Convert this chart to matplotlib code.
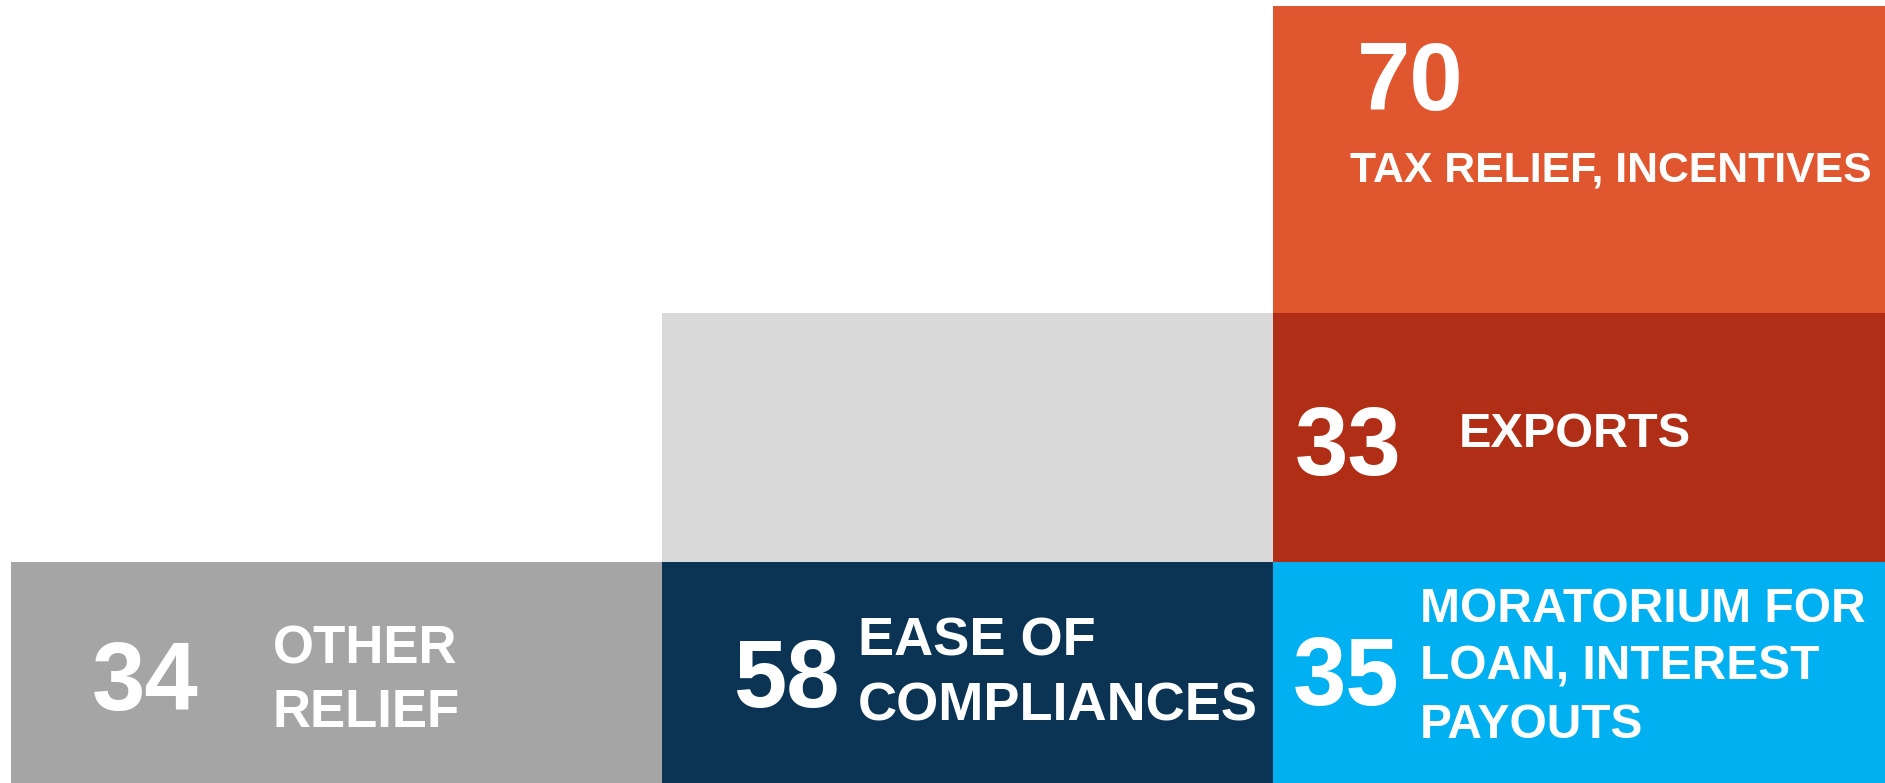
import matplotlib
matplotlib.use("Agg")
import matplotlib.pyplot as plt

# ---- data ----
categories = ["OTHER\nRELIEF", "EASE OF\nCOMPLIANCES",
              "MORATORIUM FOR\nLOAN, INTEREST\nPAYOUTS", "EXPORTS",
              "TAX RELIEF, INCENTIVES"]
values = [34, 58, 35, 33, 70]
column = [0, 1, 2, 2, 2]
level = [0, 0, 0, 1, 2]

# ---- style / layout (pixel units of the 1885x783 canvas) ----
colors = ["#A5A5A5", "#0B3454", "#00B0F0", "#B02E16", "#E0562F"]
placeholder_color = "#D9D9D9"
col_left = [11, 662, 1273]
col_width = [651, 611, 612]
row_bottom = [0, 221, 470]
row_height = [221, 249, 307]

# text placement: (left, top) in px from image top-left
num_pos = [(92, 640), (733, 637), (1293, 635), (1295, 405), (1357, 40)]
lab_pos = [(273, 624), (858, 617), (1420, 587), (1459, 412), (1350, 151)]
lab_size = [38, 39, 34.5, 35, 30.8]
lab_ls = [1.36, 1.37, 1.37, 1.2, 1.2]
num_size = 69

W, H = 1885, 783
fig = plt.figure(figsize=(W / 100, H / 100), dpi=100)
ax = fig.add_axes([0, 0, 1, 1])
ax.set_xlim(0, W)
ax.set_ylim(0, H)
ax.axis("off")

font = ["Liberation Sans", "DejaVu Sans"]

# placeholder block (column 1, level 1)
ax.bar(col_left[1], row_height[1], width=col_width[1], bottom=row_bottom[1],
       align="edge", color=placeholder_color, linewidth=0)

for i, (cat, val) in enumerate(zip(categories, values)):
    c, l = column[i], level[i]
    ax.bar(col_left[c], row_height[l], width=col_width[c], bottom=row_bottom[l],
           align="edge", color=colors[i], linewidth=0)
    nx, ny = num_pos[i]
    ax.text(nx, H - ny, str(val), ha="left", va="top", color="white",
            fontsize=num_size, fontweight="bold", family=font)
    lx, ly = lab_pos[i]
    ax.text(lx, H - ly, cat, ha="left", va="top", color="white",
            fontsize=lab_size[i], fontweight="bold", family=font,
            linespacing=lab_ls[i])

fig.savefig("out.png", dpi=100)
